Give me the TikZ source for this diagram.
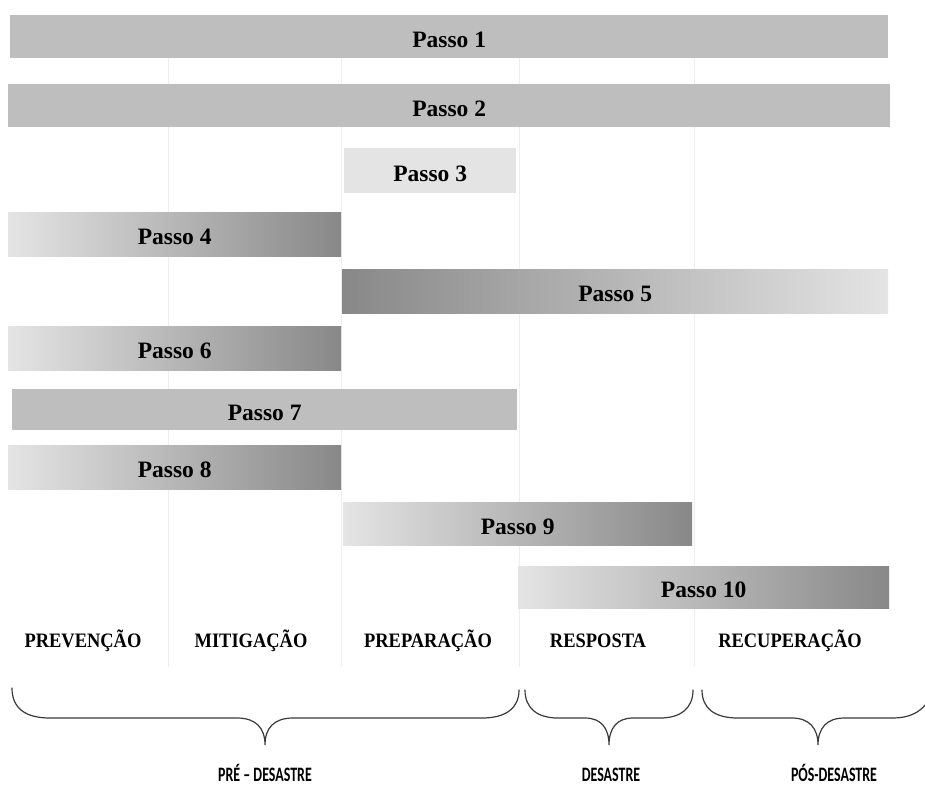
\documentclass[tikz,border=0pt]{standalone}
\usepackage{fontspec}
\usepackage{graphicx}
\setmainfont{Liberation Serif}
\newfontfamily\capsans{Carlito}
\definecolor{barmid}{HTML}{BEBEBE}
\definecolor{barlight}{HTML}{E4E4E4}
\definecolor{bardark}{HTML}{888888}
\definecolor{gridgray}{HTML}{EEEEEE}
\definecolor{bracegray}{HTML}{3A3A3A}
\newcommand{\stepfont}{\fontsize{23.5}{28}\selectfont\bfseries}
\newcommand{\phasetext}[1]{\scalebox{0.9}[1]{\fontsize{20.5}{24}\selectfont\bfseries #1}}
\newcommand{\periodtext}[1]{\scalebox{0.68}[1]{\capsans\fontsize{20.5}{24}\selectfont\bfseries #1}}
\tikzset{
  stepbar/.style={anchor=north west, inner sep=0pt, draw=none, font=\stepfont,
    text=black, text height=21pt, text depth=0pt},
  flatbar/.style={stepbar, fill=barmid},
  paletbar/.style={stepbar, fill=barlight},
  risebar/.style={stepbar, left color=barlight, right color=bardark},
  fallbar/.style={stepbar, left color=bardark, right color=barlight},
  gridline/.style={draw=gridgray, line width=1pt},
  bracket/.style={draw=bracegray, line width=1.2pt, line cap=round},
  phase/.style={inner sep=0pt, text=black},
  period/.style={inner sep=0pt, text=black, anchor=base}
}
\begin{document}
\begin{tikzpicture}[x=1pt, y=-1pt]
\useasboundingbox (0,0) rectangle (925,785);
\fill[white] (0,0) rectangle (925,785);

% phase separators
\foreach \gx in {168,341,519,694}
  \draw[gridline] (\gx,58) -- (\gx,667);

% steps
\node[flatbar,  minimum width=878pt, minimum height=43pt] (p1)  at (10,15)  {Passo 1};
\node[flatbar,  minimum width=882pt, minimum height=43pt] (p2)  at (8,84)   {Passo 2};
\node[paletbar, minimum width=172pt, minimum height=45pt] (p3)  at (344,148) {Passo 3};
\node[risebar,  minimum width=333pt, minimum height=44pt] (p4)  at (8,212)  {Passo 4};
\node[fallbar,  minimum width=546pt, minimum height=44pt] (p5)  at (342,269) {Passo 5};
\node[risebar,  minimum width=333pt, minimum height=44pt] (p6)  at (8,326)  {Passo 6};
\node[flatbar,  minimum width=505pt, minimum height=41pt] (p7)  at (12,389) {Passo 7};
\node[risebar,  minimum width=333pt, minimum height=44pt] (p8)  at (8,445)  {Passo 8};
\node[risebar,  minimum width=349pt, minimum height=43pt] (p9)  at (343,502) {Passo 9};
\node[risebar,  minimum width=371pt, minimum height=42pt] (p10) at (518,566) {Passo 10};

% phases
\node[phase] (prev) at (83,641)  {\phasetext{PREVENÇÃO}};
\node[phase] (miti) at (251,641) {\phasetext{MITIGAÇÃO}};
\node[phase] (prep) at (428,641) {\phasetext{PREPARAÇÃO}};
\node[phase] (resp) at (598,641) {\phasetext{RESPOSTA}};
\node[phase] (recu) at (790,641) {\phasetext{RECUPERAÇÃO}};

% grouping braces
\draw[bracket] (12,688) .. controls (12,708) and (25,718) .. (50,718) -- (237,718)
  .. controls (256,718) and (265,728) .. (265,745)
  .. controls (265,728) and (274,718) .. (293,718) -- (482,718)
  .. controls (506,718) and (519,708) .. (519,690);
\draw[bracket] (525,690) .. controls (525,708) and (537,718) .. (558,718) -- (585,718)
  .. controls (601,718) and (609,728) .. (609,745)
  .. controls (609,728) and (617,718) .. (633,718) -- (660,718)
  .. controls (681,718) and (693,708) .. (693,690);
\draw[bracket] (702,690) .. controls (702,708) and (714,718) .. (738,718) -- (792,718)
  .. controls (809,718) and (818,728) .. (818,745)
  .. controls (818,728) and (827,718) .. (844,718) -- (893,718)
  .. controls (908,718) and (919,713) .. (926,704);

% periods
\node[period] (pre) at (265,781) {\periodtext{PRÉ – DESASTRE}};
\node[period] (dur) at (611,781) {\periodtext{DESASTRE}};
\node[period] (pos) at (834,781) {\periodtext{PÓS-DESASTRE}};
\end{tikzpicture}
\end{document}
